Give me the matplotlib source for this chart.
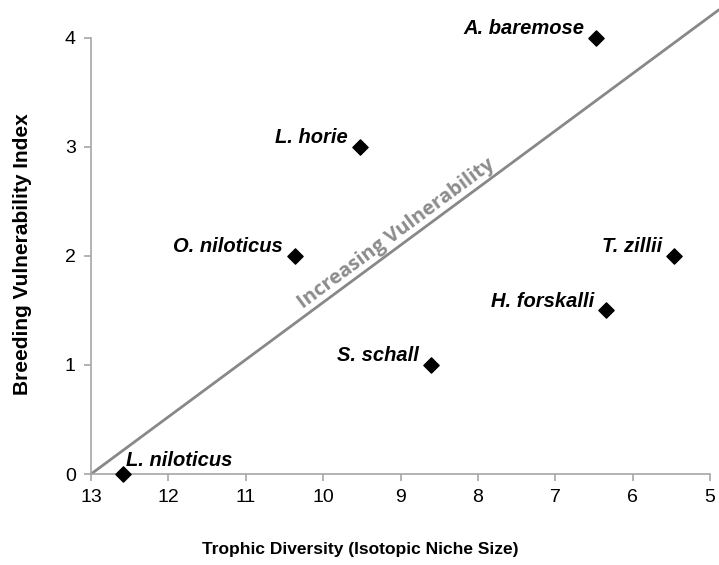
import matplotlib.pyplot as plt
import numpy as np

plt.rcParams['font.family'] = ['Liberation Sans', 'DejaVu Sans']

species = ['A. baremose', 'L. horie', 'O. niloticus', 'T. zillii',
           'H. forskalli', 'S. schall', 'L. niloticus']
niche_size = [6.47, 9.53, 10.37, 5.46, 6.35, 8.61, 12.59]
vulnerability = [4, 3, 2, 2, 1.5, 1, 0]

# trend line end points (runs a little past the axis end)
line_x = [13, 4.88]
line_y = [0, 4.26]

fig = plt.figure(figsize=(7.19, 5.65), dpi=100)
ax = fig.add_axes([0.1266, 0.161, 0.861, 0.83])

grey = '#a6a6a6'
ax.plot(line_x, line_y, color='#888888', lw=2, solid_capstyle='butt', zorder=1, clip_on=False)
ax.scatter(niche_size, vulnerability, marker='D', s=60, color='black', zorder=3, clip_on=False)

for name, x, y in zip(species, niche_size, vulnerability):
    if name == 'L. niloticus':
        ax.annotate(name, (x, y), xytext=(2, 10), textcoords='offset points',
                    ha='left', va='center', fontsize=14.5, fontweight='bold', style='italic')
    else:
        ax.annotate(name, (x, y), xytext=(-8.5, 6.5), textcoords='offset points',
                    ha='right', va='center', fontsize=14.5, fontweight='bold', style='italic')

ax.set_xlim(13, 5)
ax.set_ylim(0, 4.3)
ax.set_xticks(range(13, 4, -1))
ax.set_yticks(range(0, 5))

# angle of the line on screen (after limits are set)
p0 = ax.transData.transform((line_x[0], line_y[0]))
p1 = ax.transData.transform((line_x[1], line_y[1]))
ang = np.degrees(np.arctan2(p1[1] - p0[1], p1[0] - p0[0]))
ax.text(9.05, 2.2, 'Increasing Vulnerability', rotation=ang, rotation_mode='anchor',
        ha='center', va='center', color='#8c8c8c', fontsize=14.5, fontweight='bold',
        family=['Open Sans', 'DejaVu Sans'])

ax.spines['top'].set_visible(False)
ax.spines['right'].set_visible(False)
ax.spines['left'].set_bounds(0, 4)
for s in ['left', 'bottom']:
    ax.spines[s].set_color(grey)
    ax.spines[s].set_linewidth(1.2)
ax.tick_params(colors=grey, labelcolor='black', labelsize=14, length=5, width=1.2)
ax.tick_params(axis='x', pad=6)
ax.tick_params(axis='y', pad=6)

ax.set_xlabel('Trophic Diversity (Isotopic Niche Size)', fontsize=12.5, fontweight='bold', va='center')
ax.set_ylabel('Breeding Vulnerability Index', fontsize=15, fontweight='bold', va='center')
ax.xaxis.set_label_coords(0.435, -0.16)
ax.yaxis.set_label_coords(-0.11, 0.469)

plt.savefig('out.png', dpi=100)
